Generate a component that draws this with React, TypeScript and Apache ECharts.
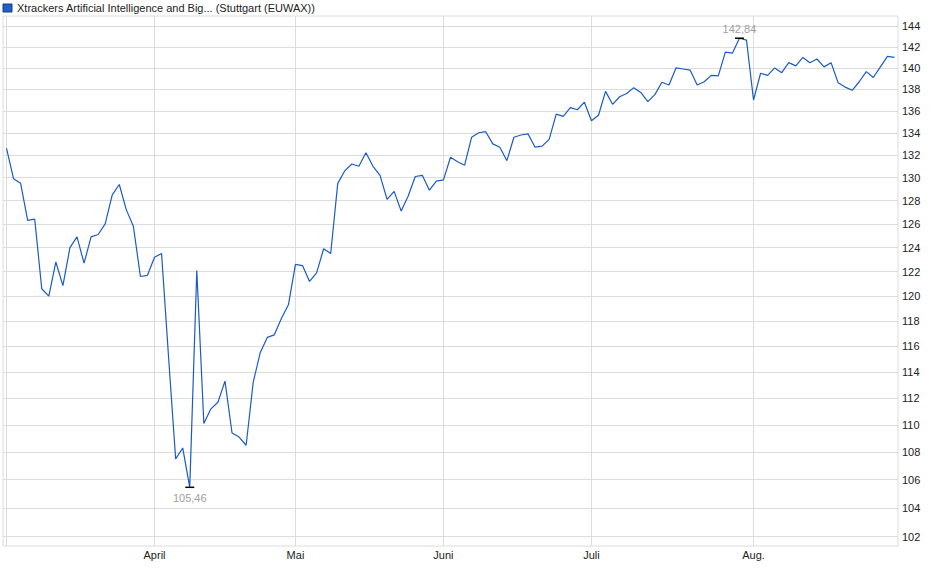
import React, { useRef, useEffect } from "react";
import * as echarts from "echarts";

const seriesName = "Xtrackers Artificial Intelligence and Big... (Stuttgart (EUWAX))";

// trading days 2025
const marchDays = [3, 4, 5, 6, 7, 10, 11, 12, 13, 14, 17, 18, 19, 20, 21, 24, 25, 26, 27, 28, 31];
const aprilDays = [1, 2, 3, 4, 7, 8, 9, 10, 11, 14, 15, 16, 17, 22, 23, 24, 25, 28, 29, 30];
const mayDays = [2, 5, 6, 7, 8, 9, 12, 13, 14, 15, 16, 19, 20, 21, 22, 23, 26, 27, 28, 29, 30];
const juneDays = [2, 3, 4, 5, 6, 9, 10, 11, 12, 13, 16, 17, 18, 19, 20, 23, 24, 25, 26, 27, 30];
const julyDays = [1, 2, 3, 4, 7, 8, 9, 10, 11, 14, 15, 16, 17, 18, 21, 22, 23, 24, 25, 28, 29, 30, 31];
const augustDays = [1, 4, 5, 6, 7, 8, 11, 12, 13, 14, 15, 18, 19, 20, 21, 22, 25, 26, 27, 28, 29];

const prices = [
  132.6, 129.9, 129.5, 126.3, 126.4, 120.6, 120.0, 122.8, 120.85, 124.0,
  124.9, 122.7, 124.9, 125.1, 126.0, 128.5, 129.4, 127.2, 125.8, 121.6,
  121.7, 123.2, 123.5, 115.1, 107.5, 108.3, 105.46, 122.1, 110.1, 111.2,
  111.7, 113.3, 109.4, 109.1, 108.5, 113.2, 115.5, 116.7, 116.9, 118.2,
  119.3, 122.6, 122.5, 121.2, 121.9, 123.9, 123.5, 129.5, 130.6, 131.2,
  131.0, 132.2, 131.0, 130.2, 128.1, 128.8, 127.1, 128.4, 130.1, 130.2,
  128.9, 129.7, 129.8, 131.8, 131.4, 131.1, 133.6, 134.0, 134.1, 133.0,
  132.7, 131.5, 133.6, 133.8, 133.9, 132.7, 132.8, 133.4, 135.7, 135.5,
  136.3, 136.1, 136.8, 135.1, 135.6, 137.8, 136.6, 137.3, 137.6, 138.15,
  137.7, 136.85, 137.5, 138.65, 138.4, 140.0, 139.9, 139.8, 138.4, 138.7,
  139.3, 139.25, 141.5, 141.4, 142.84, 142.65, 137.0, 139.5, 139.3, 140.0,
  139.55, 140.5, 140.2, 141.0, 140.5, 140.85, 140.1, 140.5, 138.6, 138.2,
  137.9, 138.7, 139.65, 139.1, 140.1, 141.1, 141.0,
];

const monthStarts = ["2025-03-03", "2025-04-01", "2025-05-02", "2025-06-02", "2025-07-01", "2025-08-01"];
const monthLabels = ["", "April", "Mai", "Juni", "Juli", "Aug."];

const yTicks = [102, 104, 106, 108, 110, 112, 114, 116, 118, 120, 122, 124, 126, 128, 130, 132, 134, 136, 138, 140, 142, 144];

const pad = (n: number) => (n < 10 ? "0" + n : String(n));
const dates = [
  ...marchDays.map((d) => `2025-03-${pad(d)}`),
  ...aprilDays.map((d) => `2025-04-${pad(d)}`),
  ...mayDays.map((d) => `2025-05-${pad(d)}`),
  ...juneDays.map((d) => `2025-06-${pad(d)}`),
  ...julyDays.map((d) => `2025-07-${pad(d)}`),
  ...augustDays.map((d) => `2025-08-${pad(d)}`),
];

const gridColor = "#dcdcdc";
const font = "'Liberation Sans', Arial, sans-serif";

const App = function () {
  const chart = useRef<HTMLDivElement>(null);
  useEffect(() => {
    if (!chart.current) return;
    const myChart = echarts.init(chart.current, null, { renderer: "svg" });
    const option = {
      animation: false,
      textStyle: { fontFamily: font },
      legend: {
        left: 2.5,
        top: 2.5,
        padding: 0,
        itemWidth: 9,
        itemHeight: 8,
        icon: "rect",
        selectedMode: false,
        itemStyle: { color: "#1f5fc8", borderColor: "#1a3a7a", borderWidth: 1 },
        textStyle: { fontSize: 11, color: "#222", fontFamily: font },
        data: [seriesName],
      },
      grid: {
        left: 3,
        top: 16,
        width: 895,
        bottom: 33,
        show: true,
        borderColor: gridColor,
        borderWidth: 1,
      },
      xAxis: {
        type: "category",
        data: dates,
        boundaryGap: true,
        axisLine: { show: false },
        axisTick: { show: false },
        splitLine: { show: false },
        axisLabel: {
          interval: (_i: number, v: string) => monthStarts.indexOf(v) > 0,
          formatter: (v: string) => monthLabels[monthStarts.indexOf(v)] || "",
          color: "#222",
          fontSize: 11,
          margin: 3,
          fontFamily: font,
        },
      },
      yAxis: {
        type: "log",
        logBase: 10,
        min: 101.36,
        max: 145,
        axisLine: { show: false },
        axisTick: { show: false },
        axisLabel: { show: false },
        splitLine: { show: false },
      },
      series: [
        {
          name: seriesName,
          type: "line",
          data: prices,
          z: 3,
          showSymbol: false,
          symbol: "none",
          lineStyle: { color: "#1a5bc6", width: 1.2 },
          itemStyle: { color: "#1a5bc6" },
          markLine: {
            z: 1,
            silent: true,
            symbol: "none",
            animation: false,
            lineStyle: { color: gridColor, width: 1, type: "solid" },
            emphasis: { disabled: true },
            data: [
              ...yTicks.map((v) => ({
                yAxis: v,
                label: {
                  show: true,
                  position: "end",
                  distance: 4,
                  formatter: String(v),
                  color: "#222",
                  fontSize: 11,
                  fontFamily: font,
                },
              })),
              ...monthStarts.map((d) => ({ xAxis: d, label: { show: false } })),
            ],
          },
          markPoint: {
            silent: true,
            animation: false,
            symbol: "rect",
            symbolSize: [9, 1.5],
            itemStyle: { color: "#000" },
            data: [
              {
                type: "max",
                label: {
                  show: true,
                  position: "top",
                  distance: 3,
                  color: "#a0a0a0",
                  fontSize: 11,
                  fontFamily: font,
                  formatter: (p: any) => Number(p.value).toFixed(2).replace(".", ","),
                },
              },
              {
                type: "min",
                label: {
                  show: true,
                  position: "bottom",
                  distance: 4,
                  color: "#a0a0a0",
                  fontSize: 11,
                  fontFamily: font,
                  formatter: (p: any) => Number(p.value).toFixed(2).replace(".", ","),
                },
              },
            ],
          },
        },
      ],
    };
    myChart.setOption(option as any);
    return () => {
      myChart.dispose();
    };
  }, []);
  return (
    <div
      ref={chart}
      style={{ position: "fixed", left: 0, top: 0, width: 940, height: 579, background: "#fff" }}
    ></div>
  );
};

export default App;
